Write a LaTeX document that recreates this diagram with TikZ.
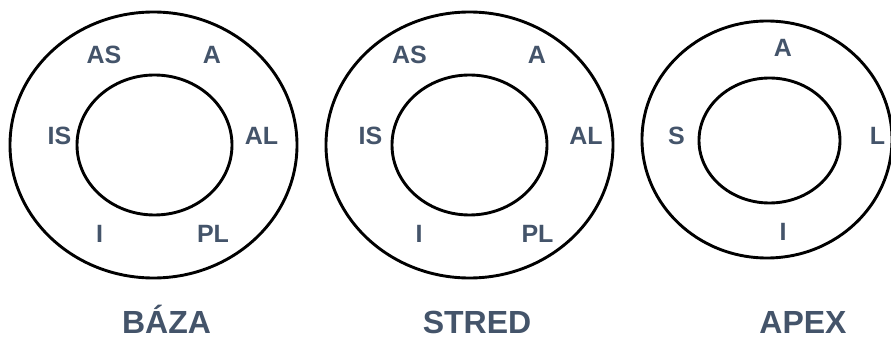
\documentclass[tikz,border=0pt]{standalone}
\usepackage{fontspec}
\setmainfont{Liberation Sans}
\definecolor{lbl}{HTML}{44546A}
\begin{document}
\begin{tikzpicture}[x=1pt,y=-1pt,
  ring/.style={draw=black,line width=2.9pt},
  seg/.style={font=\fontsize{25}{25}\selectfont\bfseries,text=lbl,anchor=base,inner sep=0pt},
  ttl/.style={font=\fontsize{32}{32}\selectfont\bfseries,text=lbl,anchor=base,inner sep=0pt}]
\useasboundingbox (0,0) rectangle (891,339);
\begin{scope}
\clip (0,0) rectangle (891,339);
% BAZA
\draw[ring] (153.5,145) ellipse [x radius=143.5, y radius=133];
\draw[ring] (154.5,145) ellipse [x radius=77.5, y radius=70];
% STRED
\draw[ring] (469.5,145) ellipse [x radius=143.5, y radius=133];
\draw[ring] (469.5,145) ellipse [x radius=77.5, y radius=70];
% APEX
\draw[ring] (767,139.5) ellipse [x radius=125, y radius=118.5];
\draw[ring] (769.5,140.5) ellipse [x radius=70.5, y radius=62.5];
\end{scope}
% labels BAZA
\node[seg] (b-as) at (104,63.5) {AS};
\node[seg] (b-a)  at (212,63.5) {A};
\node[seg] (b-is) at (59.5,145) {IS};
\node[seg] (b-al) at (261.5,145) {AL};
\node[seg] (b-i)  at (99.5,242.5) {I};
\node[seg] (b-pl) at (213,242.5) {PL};
% labels STRED
\node[seg] (s-as) at (409.5,63.5) {AS};
\node[seg] (s-a)  at (537,63.5) {A};
\node[seg] (s-is) at (370.5,145) {IS};
\node[seg] (s-al) at (586,145) {AL};
\node[seg] (s-i)  at (419,242.5) {I};
\node[seg] (s-pl) at (537.5,242.5) {PL};
% labels APEX
\node[seg] (a-a) at (783,56.5) {A};
\node[seg] (a-s) at (676.5,144.5) {S};
\node[seg] (a-l) at (877.5,144.5) {L};
\node[seg] (a-i) at (783,240.5) {I};
% titles
\node[ttl] (t-baza)  at (166.5,333) {BÁZA};
\node[ttl] (t-stred) at (477,333) {STRED};
\node[ttl] (t-apex)  at (803,333) {APEX};
\end{tikzpicture}
\end{document}
